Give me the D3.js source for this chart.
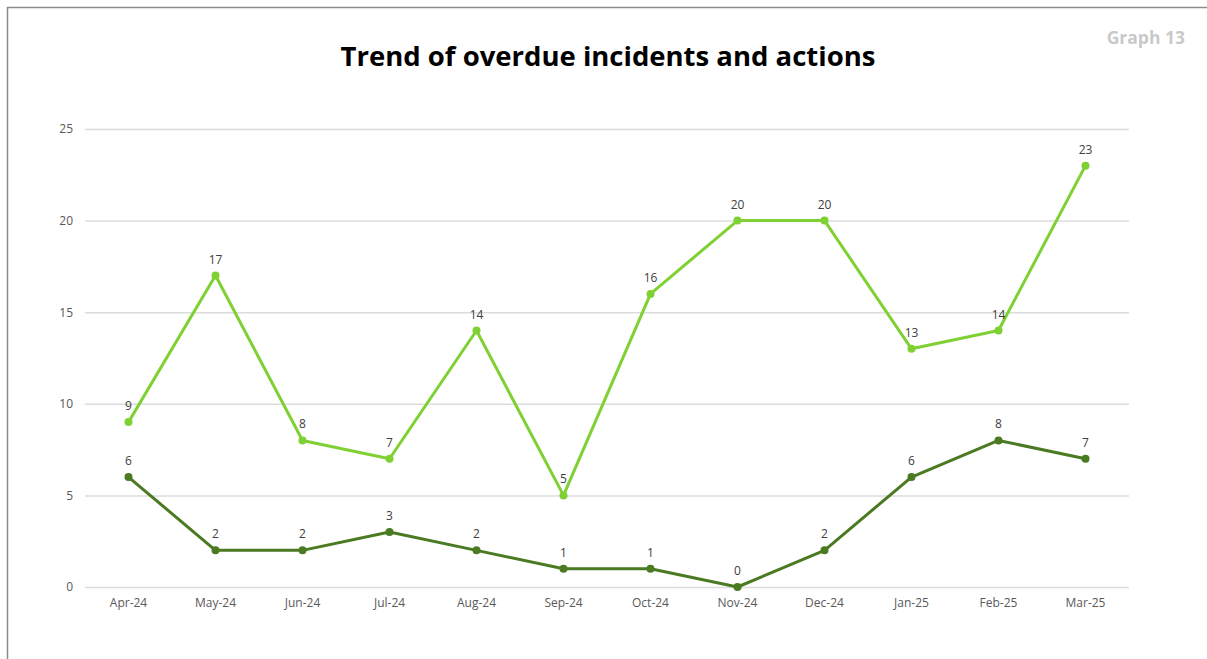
<!DOCTYPE html>
<html>
<head>
<meta charset="utf-8">
<script src="https://cdn.jsdelivr.net/npm/d3@7"></script>
<style>
  html, body { margin: 0; padding: 0; background: #fff; }
  svg { display: block; }
</style>
</head>
<body>
<svg id="chart" width="1207" height="659"></svg>
<script>
// Monthly counts, April 2024 to March 2025
const months = ["Apr-24","May-24","Jun-24","Jul-24","Aug-24","Sep-24","Oct-24","Nov-24","Dec-24","Jan-25","Feb-25","Mar-25"];
const overdueActions = [9, 17, 8, 7, 14, 5, 16, 20, 20, 13, 14, 23];
const overdueIncidents = [6, 2, 2, 3, 2, 1, 1, 0, 2, 6, 8, 7];
const yTicks = [0, 5, 10, 15, 20, 25];

const series = [
  { name: "Overdue actions", values: overdueActions, color: "#7fd133" },
  { name: "Overdue incidents", values: overdueIncidents, color: "#4a7a22" }
];

const svg = d3.select("#chart");
const font = "'Open Sans', 'Noto Sans', sans-serif";

// Frame lines along the top and left edges
svg.append("line").attr("x1", 7).attr("x2", 1207).attr("y1", 7.5).attr("y2", 7.5)
  .attr("stroke", "#8c8c8c").attr("stroke-width", 1.5);
svg.append("line").attr("x1", 7.5).attr("x2", 7.5).attr("y1", 7).attr("y2", 659)
  .attr("stroke", "#8c8c8c").attr("stroke-width", 1.5);

svg.append("text")
  .attr("x", 608).attr("y", 66)
  .attr("text-anchor", "middle")
  .attr("font-family", font).attr("font-weight", 700).attr("font-size", 27.5)
  .attr("fill", "#000")
  .text("Trend of overdue incidents and actions");

svg.append("text")
  .attr("x", 1185).attr("y", 44)
  .attr("text-anchor", "end")
  .attr("font-family", font).attr("font-weight", 700).attr("font-size", 17.5)
  .attr("fill", "#c9c9c9")
  .text("Graph 13");

const x = d3.scaleBand().domain(months).range([85, 1129]);
const y = d3.scaleLinear().domain([0, 25]).range([587, 129]);

// Horizontal gridlines with value labels
const yAxis = svg.append("g")
  .attr("transform", "translate(85,0)")
  .call(d3.axisLeft(y).tickValues(yTicks).tickSize(-(1129 - 85)).tickPadding(12));
yAxis.select(".domain").remove();
yAxis.selectAll(".tick line").attr("stroke", "#dcdcdc").attr("stroke-width", 1.5);
yAxis.selectAll(".tick text")
  .attr("font-family", font).attr("font-size", 12).attr("fill", "#595959");

// Month labels
const xAxis = svg.append("g")
  .attr("transform", "translate(0,587)")
  .call(d3.axisBottom(x).tickSize(0).tickPadding(11));
xAxis.select(".domain").remove();
xAxis.selectAll(".tick text")
  .attr("font-family", font).attr("font-size", 12).attr("fill", "#595959");

const cx = (i) => x(months[i]) + x.bandwidth() / 2;

const line = d3.line()
  .x((d, i) => cx(i))
  .y(d => y(d));

series.forEach(s => {
  const g = svg.append("g");
  g.append("path")
    .datum(s.values)
    .attr("d", line)
    .attr("fill", "none")
    .attr("stroke", s.color)
    .attr("stroke-width", 3)
    .attr("stroke-linejoin", "round");
  g.selectAll("circle")
    .data(s.values)
    .join("circle")
    .attr("cx", (d, i) => cx(i))
    .attr("cy", d => y(d))
    .attr("r", 4)
    .attr("fill", s.color);
  g.selectAll("text")
    .data(s.values)
    .join("text")
    .attr("x", (d, i) => cx(i))
    .attr("y", d => y(d) - 12)
    .attr("text-anchor", "middle")
    .attr("font-family", font).attr("font-size", 12).attr("fill", "#404040")
    .text(d => d);
});
</script>
</body>
</html>
